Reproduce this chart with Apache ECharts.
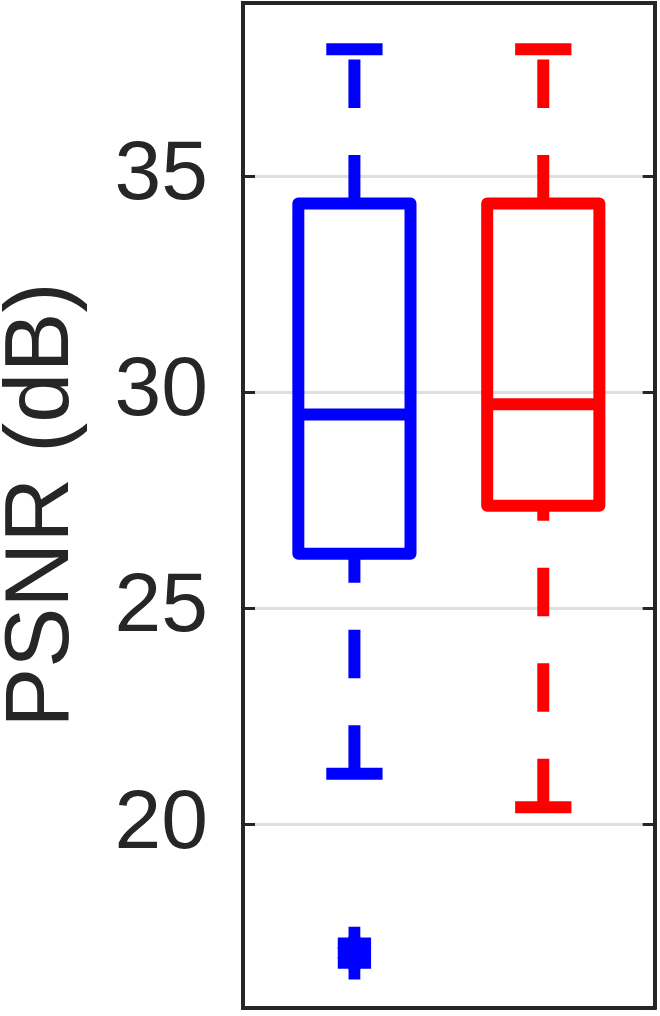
<!DOCTYPE html>
<html>
<head>
<meta charset="utf-8">
<title>PSNR boxplot</title>
<script src="https://cdn.jsdelivr.net/npm/echarts@6/dist/echarts.min.js"></script>
<style>
  html, body { margin: 0; padding: 0; background: #fff; }
  #main { width: 660px; height: 1016px; }
</style>
</head>
<body>
<div id="main"></div>
<script>
// box statistics, one entry per group (x = 1, 2)
var groupX = [1, 2];
var groupColors = ['#0000ff', '#ff0000'];
var whiskerLow = [21.17, 20.40];
var quart1 = [26.26, 27.37];
var medians = [29.48, 29.72];
var quart3 = [34.36, 34.36];
var whiskerHigh = [37.93, 37.93];
// outliers of the first group
var outliersBlue = [17.25, 17.03, 16.80];
var yTicks = [20, 25, 30, 35];

var BOX_HALF = 0.297; // x units
var CAP_HALF = 0.149;
var LW = 12;
var DASH = [48.5, 47];
var FRAME = { show: true, onZero: false, lineStyle: { color: '#262626', width: 4, cap: 'square' } };

var chart = echarts.init(document.getElementById('main'));

var boxData = groupX.map(function (x, i) {
  return [x, whiskerLow[i], quart1[i], medians[i], quart3[i], whiskerHigh[i]];
});

function renderBox (params, api) {
  var x = api.value(0);
  var color = groupColors[params.dataIndex];
  var unit = api.size([1, 0])[0];
  var hw = unit * BOX_HALF;
  var cw = unit * CAP_HALF;
  var pMin = api.coord([x, api.value(1)]);
  var pQ1 = api.coord([x, api.value(2)]);
  var pMed = api.coord([x, api.value(3)]);
  var pQ3 = api.coord([x, api.value(4)]);
  var pMax = api.coord([x, api.value(5)]);
  var cx = pMed[0];
  var dashStyle = { stroke: color, lineWidth: LW, lineDash: DASH, lineCap: 'butt', fill: null };
  var solid = { stroke: color, lineWidth: LW, lineCap: 'butt', fill: null };
  return {
    type: 'group',
    children: [
      // whiskers are drawn from lower value to higher value
      { type: 'line', shape: { x1: cx, y1: pMin[1], x2: cx, y2: pQ1[1] }, style: dashStyle },
      { type: 'line', shape: { x1: cx, y1: pQ3[1], x2: cx, y2: pMax[1] }, style: dashStyle },
      { type: 'line', shape: { x1: cx - cw, y1: pMin[1], x2: cx + cw, y2: pMin[1] }, style: solid },
      { type: 'line', shape: { x1: cx - cw, y1: pMax[1], x2: cx + cw, y2: pMax[1] }, style: solid },
      {
        type: 'rect',
        shape: { x: cx - hw, y: pQ3[1], width: hw * 2, height: pQ1[1] - pQ3[1] },
        style: { stroke: color, lineWidth: LW, lineJoin: 'round', fill: null }
      },
      { type: 'line', shape: { x1: cx - hw, y1: pMed[1], x2: cx + hw, y2: pMed[1] }, style: solid }
    ]
  };
}

var tickLabel = function (v) {
  return yTicks.indexOf(Math.round(v * 1000) / 1000) >= 0 ? String(v) : '';
};

chart.setOption({
  animation: false,
  textStyle: { fontFamily: 'Liberation Sans, Arial, Helvetica, sans-serif' },
  grid: {
    left: 243,
    right: 5.3,
    top: 3,
    bottom: 8.7,
    outerBoundsMode: 'none',
    containLabel: false,
    show: false
  },
  xAxis: [
    {
      type: 'value',
      min: 0.41,
      max: 2.59,
      position: 'bottom',
      axisLine: FRAME,
      axisTick: { show: false },
      axisLabel: { show: false },
      splitLine: { show: false }
    },
    {
      type: 'value',
      min: 0.41,
      max: 2.59,
      position: 'top',
      axisLine: FRAME,
      axisTick: { show: false },
      axisLabel: { show: false },
      splitLine: { show: false }
    }
  ],
  yAxis: [
    {
      type: 'value',
      min: 15.77,
      max: 39,
      splitNumber: 5,
      position: 'left',
      name: 'PSNR (dB)',
      nameLocation: 'middle',
      nameRotate: 90,
      nameGap: 155,
      nameTextStyle: { fontSize: 90, color: '#262626', fontFamily: 'Liberation Sans, Arial, sans-serif' },
      axisLine: FRAME,
      axisTick: { show: true, inside: true, length: 12, lineStyle: { color: '#262626', width: 3 } },
      axisLabel: {
        fontSize: 84,
        color: '#262626',
        margin: 35,
        showMinLabel: false,
        showMaxLabel: false,
        formatter: tickLabel
      },
      splitLine: { show: true, lineStyle: { color: '#dfdfdf', width: 3 } }
    },
    {
      type: 'value',
      min: 15.77,
      max: 39,
      splitNumber: 5,
      position: 'right',
      axisLine: FRAME,
      axisTick: { show: true, inside: true, length: 12, lineStyle: { color: '#262626', width: 3 } },
      axisLabel: { show: false },
      splitLine: { show: false }
    }
  ],
  series: [
    {
      type: 'custom',
      renderItem: renderBox,
      encode: { x: 0, y: [1, 2, 3, 4, 5] },
      data: boxData,
      z: 3
    },
    {
      type: 'scatter',
      symbol: 'path://M11,0h12v11h11v12h-11v11h-12v-11h-11v-12h11z',
      symbolSize: 33.3,
      itemStyle: { color: '#0000ff', opacity: 1 },
      data: outliersBlue.map(function (v) { return [groupX[0], v]; }),
      z: 3
    }
  ]
});
</script>
</body>
</html>
